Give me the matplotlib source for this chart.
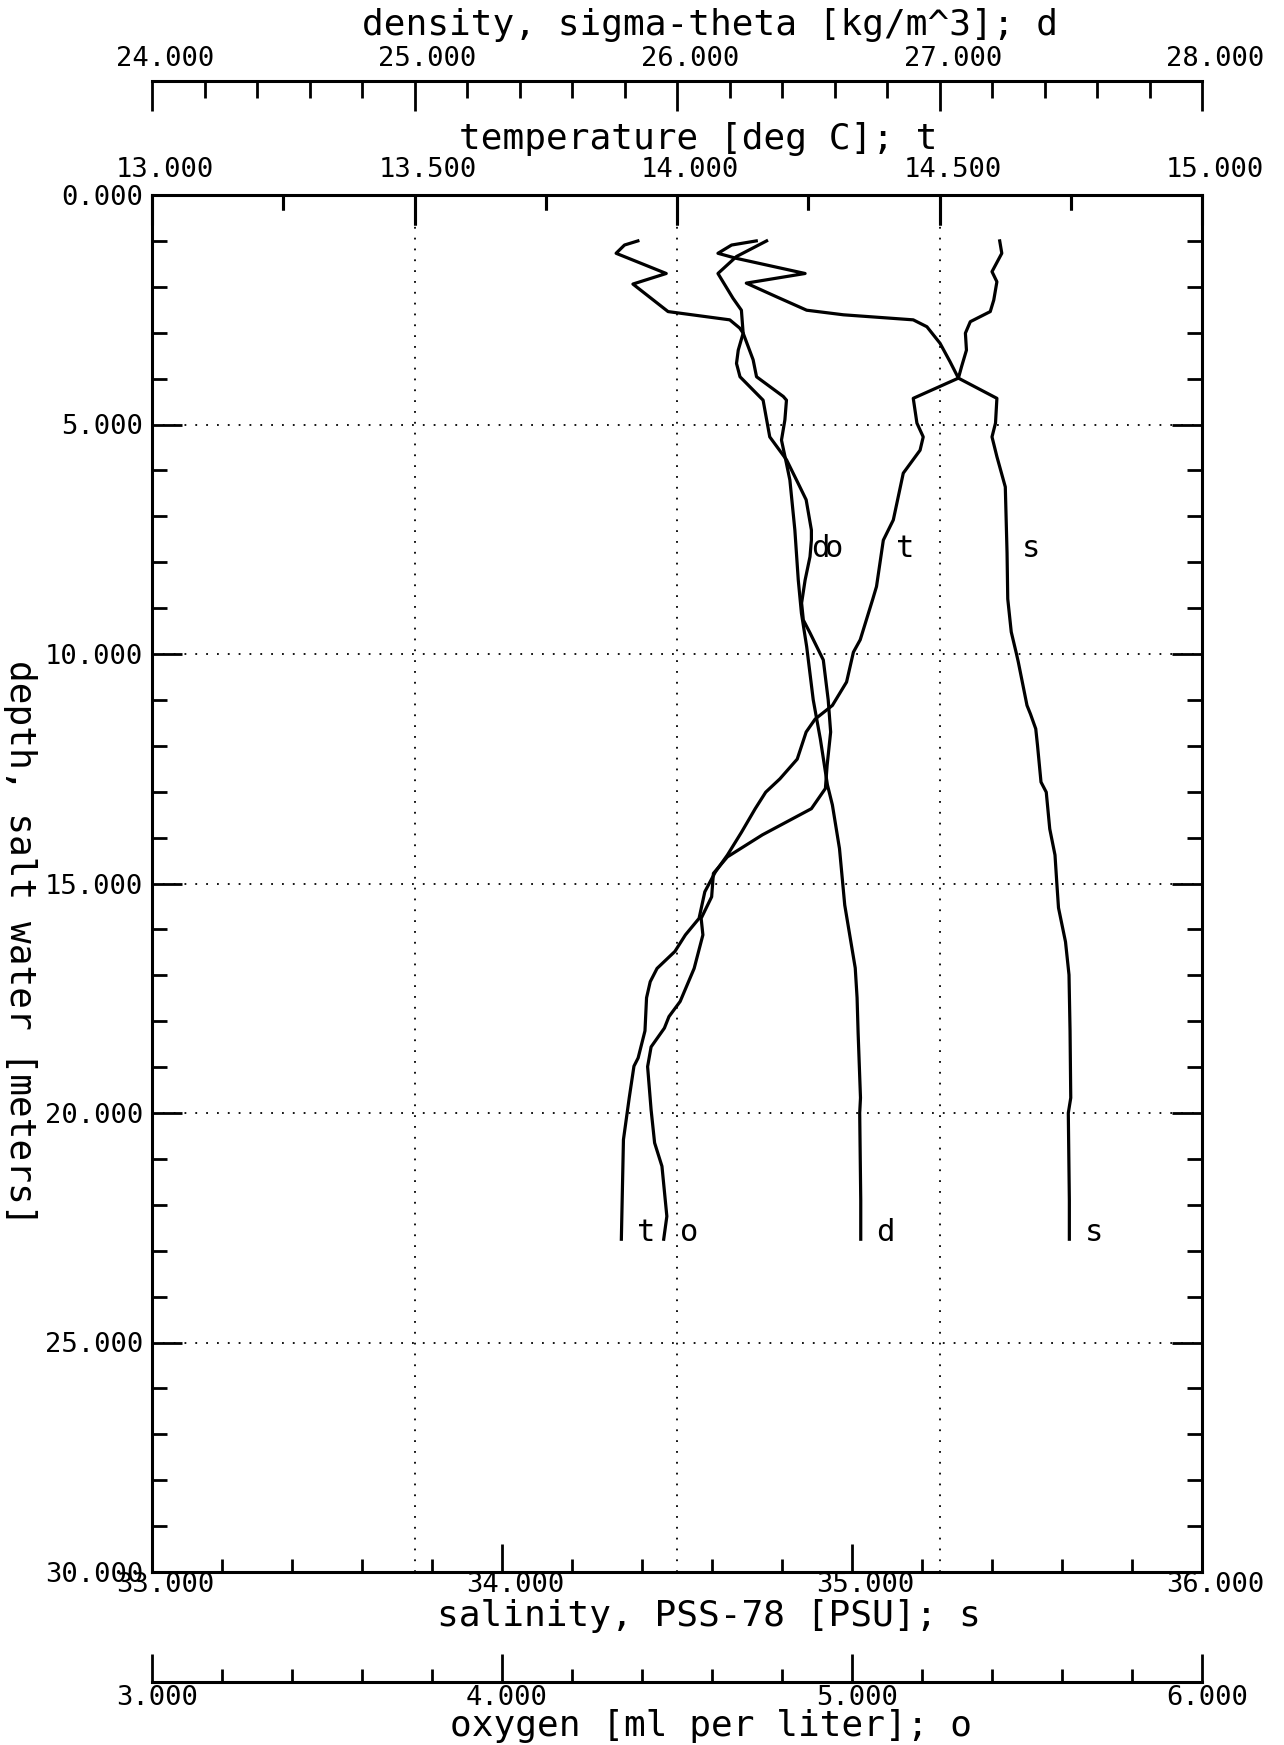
import numpy as np
import matplotlib
matplotlib.use("Agg")
import matplotlib.pyplot as plt
from matplotlib.transforms import blended_transform_factory, ScaledTranslation
from matplotlib.ticker import MultipleLocator, FormatStrFormatter

# ---------------- data ----------------
t_depth = [1.00, 1.09, 1.27, 1.38, 1.71, 1.92, 2.22, 2.51, 2.61, 2.72, 2.87, 3.23, 3.63, 3.99, 4.43,
           4.97, 5.27, 5.56, 6.06, 7.08, 7.52, 8.53, 8.80, 9.69, 9.96, 10.61, 11.12, 11.42, 11.70,
           12.29, 12.72, 13.01, 13.37, 13.88, 14.38, 14.75, 15.18, 15.76, 16.12, 16.48, 16.85,
           17.14, 17.49, 18.21, 18.80, 18.98, 19.67, 20.58, 22.75]
t_val = [14.151, 14.104, 14.078, 14.113, 14.244, 14.132, 14.190, 14.247, 14.317, 14.450, 14.476,
         14.501, 14.520, 14.536, 14.450, 14.457, 14.469, 14.463, 14.431, 14.412, 14.393, 14.380,
         14.373, 14.349, 14.336, 14.323, 14.296, 14.263, 14.246, 14.229, 14.196, 14.169, 14.149,
         14.123, 14.096, 14.073, 14.053, 14.042, 14.016, 13.996, 13.962, 13.949, 13.942, 13.939,
         13.926, 13.918, 13.909, 13.898, 13.894]

s_depth = [1.00, 1.27, 1.67, 1.89, 2.29, 2.54, 2.76, 3.01, 3.38, 3.74, 3.99, 4.43, 4.97, 5.27, 5.70,
           6.36, 7.80, 8.80, 9.52, 10.00, 10.17, 11.12, 11.31, 11.63, 11.99, 12.79, 13.01, 13.81,
           14.38, 14.97, 15.53, 16.27, 16.99, 18.21, 19.67, 20.00, 21.90, 22.75]
s_val = [35.422, 35.428, 35.400, 35.414, 35.405, 35.395, 35.338, 35.324, 35.327, 35.313, 35.304,
         35.414, 35.410, 35.400, 35.414, 35.438, 35.443, 35.445, 35.455, 35.470, 35.475, 35.500,
         35.510, 35.525, 35.530, 35.540, 35.555, 35.565, 35.580, 35.585, 35.590, 35.610, 35.620,
         35.623, 35.625, 35.618, 35.621, 35.621]

d_depth = [1.00, 1.09, 1.27, 1.71, 1.94, 2.54, 2.72, 2.90, 3.01, 3.59, 3.96, 4.39, 4.47, 4.90, 5.34,
           5.85, 6.21, 7.30, 8.39, 9.11, 9.84, 11.00, 11.85, 12.85, 13.29, 14.24, 15.47, 16.84,
           17.49, 18.26, 19.67, 20.00, 21.90, 22.75]
d_val = [25.851, 25.800, 25.768, 25.959, 25.832, 25.966, 26.201, 26.239, 26.252, 26.290, 26.303,
         26.405, 26.417, 26.411, 26.398, 26.417, 26.430, 26.449, 26.462, 26.474, 26.494, 26.519,
         26.546, 26.573, 26.592, 26.619, 26.639, 26.679, 26.686, 26.690, 26.699, 26.696, 26.700,
         26.700]

o_depth = [1.00, 1.34, 1.71, 2.25, 2.51, 3.01, 3.38, 3.67, 3.96, 4.47, 5.27, 5.77, 6.28, 6.64, 7.30,
           7.52, 7.88, 8.39, 8.89, 9.26, 9.54, 10.13, 11.00, 11.70, 12.42, 12.93, 13.37, 13.94,
           14.42, 14.78, 15.29, 15.76, 16.12, 16.85, 17.57, 17.90, 18.15, 18.56, 18.99, 19.93,
           20.65, 21.16, 22.25, 22.75]
o_val = [4.756, 4.670, 4.617, 4.660, 4.684, 4.689, 4.675, 4.670, 4.680, 4.746, 4.765, 4.813, 4.846,
         4.869, 4.884, 4.884, 4.880, 4.866, 4.856, 4.861, 4.880, 4.918, 4.932, 4.939, 4.929, 4.924,
         4.884, 4.744, 4.644, 4.604, 4.599, 4.569, 4.574, 4.549, 4.509, 4.477, 4.464, 4.426, 4.416,
         4.426, 4.436, 4.457, 4.471, 4.462]

dens_ticks = [24.0, 25.0, 26.0, 27.0, 28.0]
temp_ticks = [13.0, 13.5, 14.0, 14.5, 15.0]
sal_ticks = [33.0, 34.0, 35.0, 36.0]
oxy_ticks = [3.0, 4.0, 5.0, 6.0]

title_dens = "density, sigma-theta [kg/m^3]; d"
title_temp = "temperature [deg C]; t"
title_sal = "salinity, PSS-78 [PSU]; s"
title_oxy = "oxygen [ml per liter]; o"
title_depth = "depth, salt water [meters]"

# ---------------- layout / style ----------------
W, H, DPI = 1284, 1745, 100
FONT = "DejaVu Sans Mono"
TICK_FS = 19.5
TITLE_FS = 26
LAB_FS = 22


def pt(px):
    return px * 72.0 / DPI


L, R, TOP, BOT = 152, 1202, 195, 1572
fig = plt.figure(figsize=(W / DPI, H / DPI), dpi=DPI)
fig.patch.set_facecolor("white")

ax = fig.add_axes([L / W, 1 - BOT / H, (R - L) / W, (BOT - TOP) / H])
ax.set_xlim(13, 15)
ax.set_ylim(30, 0)

# twin axes: salinity, density, oxygen, and one carrying the temperature ticks on top
ax_s = ax.twiny()
ax_s.set_xlim(33, 36)
ax_d = ax.twiny()
ax_d.set_xlim(24, 28)
ax_o = ax.twiny()
ax_o.set_xlim(3, 6)
ax_tt = ax.twiny()
ax_tt.set_xlim(13, 15)

for sp in ax.spines.values():
    sp.set_linewidth(2.2)
ax.xaxis.set_major_locator(MultipleLocator(0.5))
ax.xaxis.set_minor_locator(MultipleLocator(0.25))
ax.yaxis.set_major_locator(MultipleLocator(5))
ax.yaxis.set_minor_locator(MultipleLocator(1))
ax.yaxis.set_major_formatter(FormatStrFormatter("%.3f"))
ax.tick_params(axis="x", which="both", top=False, bottom=False, labeltop=False, labelbottom=False)
ax.tick_params(axis="y", which="both", direction="in", left=True, right=True,
               labelleft=True, labelright=False, width=2.0, pad=pt(9),
               labelsize=TICK_FS, labelfontfamily=FONT)
ax.tick_params(axis="y", which="major", length=pt(30))
ax.tick_params(axis="y", which="minor", length=pt(15))
ax.grid(True, which="major", color="black", linewidth=1.3, linestyle=(0, (1, 5)))
ax.set_axisbelow(True)

# temperature ticks on the top edge of the box
ax_tt.xaxis.tick_top()
ax_tt.xaxis.set_major_locator(MultipleLocator(0.5))
ax_tt.xaxis.set_minor_locator(MultipleLocator(0.25))
ax_tt.tick_params(axis="x", which="both", direction="in", top=True, bottom=False,
                  labeltop=False, labelbottom=False, width=2.2, color="black")
ax_tt.tick_params(axis="x", which="major", length=pt(30))
ax_tt.tick_params(axis="x", which="minor", length=pt(15))
top_tr = ax.get_xaxis_transform()
temp_major = np.arange(13.5, 15.0, 0.5)
temp_minor = np.arange(13.25, 15.0, 0.5)
ax.vlines(temp_major, 1.0, 1.0 - 30 / (BOT - TOP), transform=top_tr, colors="black",
          linewidth=2.2, clip_on=False, zorder=3)
ax.vlines(temp_minor, 1.0, 1.0 - 15 / (BOT - TOP), transform=top_tr, colors="black",
          linewidth=2.2, clip_on=False, zorder=3)

# salinity ticks on the bottom edge of the box
ax_s.xaxis.tick_bottom()
ax_s.xaxis.set_major_locator(MultipleLocator(1.0))
ax_s.xaxis.set_minor_locator(MultipleLocator(0.2))
ax_s.tick_params(axis="x", which="both", direction="in", bottom=True, top=False,
                 labelbottom=False, labeltop=False, width=2.0)
ax_s.tick_params(axis="x", which="major", length=pt(28))
ax_s.tick_params(axis="x", which="minor", length=pt(13))

for a in (ax_d, ax_o):
    a.tick_params(axis="x", which="both", top=False, bottom=False, labeltop=False, labelbottom=False)
for a in (ax_s, ax_d, ax_o, ax_tt):
    for sp in a.spines.values():
        sp.set_visible(False)

LW = 2.3
ax.plot(t_val, t_depth, color="black", lw=LW, solid_joinstyle="round")
ax_s.plot(s_val, s_depth, color="black", lw=LW, solid_joinstyle="round")
ax_d.plot(d_val, d_depth, color="black", lw=LW, solid_joinstyle="round")
ax_o.plot(o_val, o_depth, color="black", lw=LW, solid_joinstyle="round")

# curve labels
LABEL_DEPTH = 7.89
for a, name, dep, val in ((ax, "t", t_depth, t_val), (ax_s, "s", s_depth, s_val),
                          (ax_d, "d", d_depth, d_val), (ax_o, "o", o_depth, o_val)):
    xt = np.interp(LABEL_DEPTH, dep, val)
    a.annotate(name, xy=(xt, LABEL_DEPTH), xytext=(pt(24), 0), textcoords="offset points",
               ha="center", va="baseline", fontsize=LAB_FS, family=FONT)
    a.annotate(name, xy=(val[-1], dep[-1]), xytext=(pt(25), pt(-2)), textcoords="offset points",
               ha="center", va="baseline", fontsize=LAB_FS, family=FONT)


def strip_axis(y_px, lo, hi, major, minor, direction, maj_len, min_len):
    a = fig.add_axes([L / W, 1 - y_px / H, (R - L) / W, 1e-4])
    a.set_xlim(lo, hi)
    a.patch.set_visible(False)
    for k, sp in a.spines.items():
        sp.set_visible(k == "bottom")
    a.spines["bottom"].set_linewidth(2.2)
    a.set_yticks([])
    a.xaxis.tick_bottom()
    a.xaxis.set_major_locator(MultipleLocator(major))
    a.xaxis.set_minor_locator(MultipleLocator(minor))
    a.tick_params(axis="x", which="both", direction=direction, bottom=True, top=False,
                  labelbottom=False, labeltop=False, width=2.0)
    a.tick_params(axis="x", which="major", length=pt(maj_len))
    a.tick_params(axis="x", which="minor", length=pt(min_len))
    return a


# separate density axis (top)
ax_dt = strip_axis(81, 24, 28, 1.0, 0.2, "out", 30, 17)
# separate oxygen axis (bottom), ticks pointing up
ax_ob = strip_axis(1682, 3, 6, 1.0, 0.2, "in", 28, 13)


def tick_texts(a, values, y_px, dx_px=-36):
    tr = blended_transform_factory(a.transData, fig.transFigure) + \
        ScaledTranslation(dx_px / DPI, 0, fig.dpi_scale_trans)
    for v in values:
        a.text(v, 1 - y_px / H, f"{v:.3f}", transform=tr, ha="left", va="center",
               fontsize=TICK_FS, family=FONT, clip_on=False)


tick_texts(ax_dt, dens_ticks, 59)
tick_texts(ax, temp_ticks, 170)
tick_texts(ax_s, sal_ticks, 1585)
tick_texts(ax_ob, oxy_ticks, 1698)

fig.text(710 / W, 1 - 25 / H, title_dens, ha="center", va="center", fontsize=TITLE_FS, family=FONT)
fig.text(698 / W, 1 - 139 / H, title_temp, ha="center", va="center", fontsize=TITLE_FS, family=FONT)
fig.text(709 / W, 1 - 1616 / H, title_sal, ha="center", va="center", fontsize=TITLE_FS, family=FONT)
fig.text(711 / W, 1 - 1726 / H, title_oxy, ha="center", va="center", fontsize=TITLE_FS, family=FONT)
fig.text(20 / W, 1 - 943 / H, title_depth, ha="center", va="center", rotation=270,
         fontsize=TITLE_FS, family=FONT)

fig.savefig("out.png", dpi=DPI)
